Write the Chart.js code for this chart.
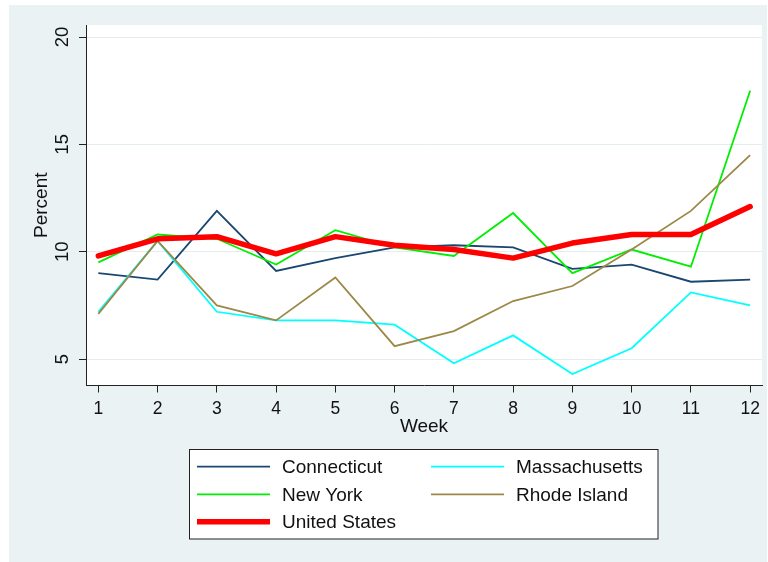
<!DOCTYPE html>
<html>
<head>
<meta charset="utf-8">
<script src="https://cdn.jsdelivr.net/npm/chart.js@4.4.0/dist/chart.umd.min.js"></script>
<style>
  html, body { margin: 0; padding: 0; background: #ffffff; }
  canvas { display: block; }
</style>
</head>
<body>
<canvas id="chart" width="768" height="562"></canvas>
<script>
// Weekly percentages by state, weeks 1-12
const weeks = [1, 2, 3, 4, 5, 6, 7, 8, 9, 10, 11, 12];
const connecticut   = [9.0, 8.7, 11.9, 9.1, 9.7, 10.2, 10.3, 10.2, 9.2, 9.4, 8.6, 8.7];
const massachusetts = [7.2, 10.5, 7.2, 6.8, 6.8, 6.6, 4.8, 6.1, 4.3, 5.5, 8.1, 7.5];
const newYork       = [9.5, 10.8, 10.6, 9.4, 11.0, 10.2, 9.8, 11.8, 9.0, 10.1, 9.3, 17.5];
const rhodeIsland   = [7.1, 10.5, 7.5, 6.8, 8.8, 5.6, 6.3, 7.7, 8.4, 10.1, 11.9, 14.5];
const unitedStates  = [9.8, 10.6, 10.7, 9.9, 10.7, 10.3, 10.1, 9.7, 10.4, 10.8, 10.8, 12.1];
const percentTicks  = [5, 10, 15, 20];

const FONT = "'Liberation Sans', Arial, Helvetica, sans-serif";
const BG_OUTER = '#EAF2F3';
const INK = '#111111';

const toPoints = vals => vals.map((v, i) => ({ x: weeks[i], y: v }));

function series(label, vals, color, width, order) {
  return {
    label,
    data: toPoints(vals),
    borderColor: color,
    backgroundColor: color,
    borderWidth: width,
    pointRadius: 0,
    pointHoverRadius: 0,
    tension: 0,
    fill: false,
    order,
    borderJoinStyle: width > 3 ? 'round' : 'miter',
    borderCapStyle: width > 3 ? 'round' : 'butt'
  };
}

// Panel backgrounds: outer light band, white plot region
const panelBackground = {
  id: 'panelBackground',
  beforeDraw(chart) {
    const { ctx, chartArea: a } = chart;
    ctx.save();
    ctx.fillStyle = '#ffffff';
    ctx.fillRect(0, 0, chart.width, chart.height);
    ctx.fillStyle = BG_OUTER;
    ctx.fillRect(9, 5, 758, chart.height - 5);
    ctx.fillStyle = '#ffffff';
    ctx.fillRect(a.left, a.top, a.right - a.left, a.bottom - a.top);
    ctx.restore();
  }
};

// Vertical-axis tick labels, rotated to read bottom-to-top
const rotatedYLabels = {
  id: 'rotatedYLabels',
  afterDraw(chart) {
    const { ctx } = chart;
    const y = chart.scales.y;
    ctx.save();
    ctx.fillStyle = INK;
    ctx.font = `18.5px ${FONT}`;
    ctx.textAlign = 'center';
    ctx.textBaseline = 'middle';
    y.ticks.forEach(t => {
      const py = y.getPixelForValue(t.value);
      ctx.save();
      ctx.translate(63, py);
      ctx.rotate(-Math.PI / 2);
      ctx.fillText(String(t.value), 0, 0);
      ctx.restore();
    });
    ctx.restore();
  }
};

// Boxed two-column legend below the plot
const boxedLegend = {
  id: 'boxedLegend',
  afterDraw(chart) {
    const { ctx } = chart;
    const box = { x: 189.5, y: 449.5, w: 468.5, h: 89.5 };
    ctx.save();
    ctx.fillStyle = '#ffffff';
    ctx.fillRect(box.x, box.y, box.w, box.h);
    ctx.strokeStyle = '#222222';
    ctx.lineWidth = 1;
    ctx.strokeRect(box.x, box.y, box.w, box.h);

    const cols = [{ x0: 197, x1: 270, tx: 282 }, { x0: 431, x1: 504, tx: 516 }];
    const rows = [466.7, 494.3, 521.7];
    ctx.font = `19px ${FONT}`;
    ctx.textAlign = 'left';
    ctx.textBaseline = 'middle';
    chart.data.datasets.forEach((ds, i) => {
      const c = cols[i % 2];
      const ry = rows[Math.floor(i / 2)];
      ctx.beginPath();
      ctx.strokeStyle = ds.borderColor;
      ctx.lineWidth = ds.borderWidth;
      ctx.lineCap = 'butt';
      ctx.moveTo(c.x0, ry);
      ctx.lineTo(c.x1, ry);
      ctx.stroke();
      ctx.fillStyle = INK;
      ctx.fillText(ds.label, c.tx, ry + 1.5);
    });
    ctx.restore();
  }
};

new Chart(document.getElementById('chart'), {
  type: 'line',
  data: {
    datasets: [
      series('Connecticut',   connecticut,   '#1a476f', 1.8, 5),
      series('Massachusetts', massachusetts, '#00ffff', 1.8, 4),
      series('New York',      newYork,       '#00ee00', 1.8, 3),
      series('Rhode Island',  rhodeIsland,   '#9c8847', 1.8, 2),
      series('United States', unitedStates,  '#ff0000', 5.5, 1)
    ]
  },
  options: {
    responsive: false,
    animation: false,
    devicePixelRatio: 1,
    layout: { padding: { left: 0, right: 6, top: 25, bottom: 123.5 } },
    plugins: {
      legend: { display: false },
      tooltip: { enabled: false }
    },
    scales: {
      x: {
        type: 'linear',
        min: 0.792,
        max: 12.2,
        afterBuildTicks: s => { s.ticks = weeks.map(v => ({ value: v })); },
        afterFit: s => { s.height = 53; },
        grid: { drawOnChartArea: false, drawTicks: true, tickLength: 7, tickColor: '#222222', tickWidth: 1 },
        border: { display: true, color: '#222222', width: 1 },
        ticks: {
          color: INK,
          padding: 6,
          maxRotation: 0,
          autoSkip: false,
          font: { family: FONT, size: 17.5, lineHeight: 1.2 }
        },
        title: {
          display: true,
          text: 'Week',
          color: INK,
          padding: { top: 0, bottom: 0 },
          font: { family: FONT, size: 19, lineHeight: 1.2 }
        }
      },
      y: {
        type: 'linear',
        min: 3.766,
        max: 20.559,
        afterBuildTicks: s => { s.ticks = percentTicks.map(v => ({ value: v })); },
        afterFit: s => { s.width = 86; },
        grid: { color: '#E3ECEE', lineWidth: 1, drawTicks: true, tickLength: 7, tickColor: '#222222', tickWidth: 1 },
        border: { display: true, color: '#222222', width: 1 },
        ticks: { display: false },
        title: {
          display: true,
          text: 'Percent',
          color: INK,
          padding: { top: 30, bottom: 0 },
          font: { family: FONT, size: 19, lineHeight: 1.2 }
        }
      }
    }
  },
  plugins: [panelBackground, rotatedYLabels, boxedLegend]
});
</script>
</body>
</html>
